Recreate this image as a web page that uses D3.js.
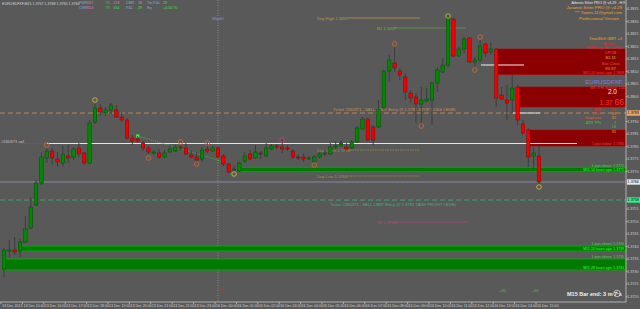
<!DOCTYPE html>
<html lang="en">
<head>
<meta charset="UTF-8">
<title>EURUSDFXF,M15</title>
<style>
  html, body { margin: 0; padding: 0; background: #595959; }
  svg { display: block; font-family: "Liberation Sans", Arial, sans-serif; }
</style>
</head>
<body>
<svg id="chart" width="640" height="309"></svg>
<script src="https://cdnjs.cloudflare.com/ajax/libs/d3/7.8.5/d3.min.js"></script>
<script>
// ---- data ----
const candleOpen = [1.37308,1.37380,1.37384,1.37380,1.37416,1.37472,1.37564,1.37652,1.37752,1.37780,
  1.37748,1.37732,1.37760,1.37756,1.37792,1.37772,1.37732,1.37896,1.37952,1.37932,
  1.37944,1.37944,1.37916,1.37904,1.37832,1.37828,1.37812,1.37792,1.37772,1.37772,
  1.37756,1.37776,1.37780,1.37796,1.37792,1.37764,1.37756,1.37748,1.37788,1.37780,
  1.37792,1.37760,1.37728,1.37704,1.37700,1.37740,1.37768,1.37752,1.37772,1.37760,
  1.37788,1.37800,1.37796,1.37792,1.37780,1.37756,1.37756,1.37748,1.37736,1.37756,
  1.37768,1.37768,1.37796,1.37804,1.37796,1.37792,1.37816,1.37868,1.37908,1.37876,
  1.37876,1.37952,1.38100,1.38132,1.38100,1.38076,1.38012,1.37996,1.37968,1.37980,
  1.37984,1.38052,1.38096,1.38124,1.38308,1.38160,1.38188,1.38232,1.38136,1.38144,
  1.38208,1.38176,1.38188,1.38004,1.37984,1.37984,1.38036,1.37888,1.37864,1.37760,
  1.37760];
const candleHigh = [1.37392,1.37424,1.37436,1.37432,1.37520,1.37596,1.37664,1.37776,1.37792,1.37792,
  1.37776,1.37800,1.37804,1.37796,1.37812,1.37776,1.37904,1.37968,1.37968,1.37956,
  1.37972,1.37964,1.37936,1.37912,1.37844,1.37840,1.37820,1.37800,1.37784,1.37788,
  1.37784,1.37804,1.37804,1.37804,1.37812,1.37784,1.37776,1.37796,1.37812,1.37800,
  1.37800,1.37768,1.37732,1.37724,1.37736,1.37776,1.37784,1.37804,1.37780,1.37812,
  1.37808,1.37808,1.37828,1.37804,1.37788,1.37768,1.37772,1.37760,1.37764,1.37776,
  1.37784,1.37812,1.37820,1.37824,1.37812,1.37824,1.37880,1.37916,1.37912,1.37884,
  1.37984,1.38104,1.38164,1.38196,1.38112,1.38092,1.38024,1.38012,1.38036,1.38032,
  1.38056,1.38116,1.38152,1.38324,1.38312,1.38196,1.38236,1.38236,1.38156,1.38224,
  1.38212,1.38212,1.38192,1.38036,1.38044,1.38084,1.38044,1.37904,1.37872,1.37792,
  1.37804];
const candleLow = [1.37276,1.37352,1.37364,1.37356,1.37412,1.37468,1.37560,1.37644,1.37732,1.37724,
  1.37716,1.37716,1.37732,1.37744,1.37756,1.37724,1.37728,1.37888,1.37920,1.37920,
  1.37928,1.37912,1.37896,1.37824,1.37804,1.37812,1.37780,1.37768,1.37764,1.37748,
  1.37752,1.37772,1.37776,1.37784,1.37764,1.37752,1.37736,1.37736,1.37772,1.37776,
  1.37752,1.37720,1.37692,1.37696,1.37696,1.37732,1.37744,1.37748,1.37748,1.37756,
  1.37784,1.37788,1.37772,1.37780,1.37748,1.37744,1.37736,1.37744,1.37736,1.37752,
  1.37760,1.37764,1.37788,1.37796,1.37784,1.37788,1.37812,1.37864,1.37820,1.37804,
  1.37872,1.37944,1.38056,1.38096,1.38064,1.37984,1.37972,1.37892,1.37884,1.37976,
  1.37884,1.38016,1.38092,1.38112,1.38156,1.38156,1.38172,1.38132,1.38116,1.38136,
  1.38156,1.38164,1.37956,1.37984,1.37904,1.37932,1.37884,1.37844,1.37716,1.37704,
  1.37644];
const candleClose = [1.37384,1.37384,1.37376,1.37416,1.37468,1.37556,1.37652,1.37756,1.37780,1.37752,
  1.37736,1.37768,1.37752,1.37788,1.37768,1.37732,1.37892,1.37952,1.37936,1.37944,
  1.37964,1.37916,1.37904,1.37832,1.37820,1.37820,1.37792,1.37776,1.37776,1.37756,
  1.37772,1.37788,1.37796,1.37792,1.37768,1.37756,1.37744,1.37784,1.37780,1.37792,
  1.37756,1.37728,1.37696,1.37708,1.37732,1.37760,1.37748,1.37776,1.37768,1.37792,
  1.37800,1.37796,1.37788,1.37788,1.37756,1.37752,1.37748,1.37752,1.37756,1.37768,
  1.37772,1.37796,1.37800,1.37812,1.37788,1.37816,1.37872,1.37908,1.37824,1.37824,
  1.37948,1.38100,1.38144,1.38112,1.38084,1.38016,1.37992,1.37968,1.37984,1.37988,
  1.38052,1.38104,1.38124,1.38312,1.38160,1.38188,1.38228,1.38136,1.38144,1.38200,
  1.38172,1.38188,1.37992,1.37988,1.37972,1.38032,1.37904,1.37852,1.37756,1.37772,
  1.37656];

const priceTicks = [1.3720,1.3725,1.3730,1.3735,1.3740,1.3745,1.3750,1.3755,1.3760,1.3765,
  1.3770,1.3775,1.3780,1.3785,1.3790,1.3795,1.3800,1.3805,1.3810,1.3815,1.3820,1.3825,1.3830,1.3835];
const timeLabelBars = [0,4,8,12,16,20,24,28,32,36,40,44,48,52,56,60,64,68,72,76,80,84,88,92,96,100];
const timeLabels = ["13 Dec 2013","13 Dec 15:00","13 Dec 16:00","13 Dec 17:00","13 Dec 18:00",
  "13 Dec 19:00","13 Dec 20:00","13 Dec 21:00","13 Dec 22:00","13 Dec 23:00","16 Dec 00:00",
  "16 Dec 01:00","16 Dec 02:00","16 Dec 03:00","16 Dec 04:00","16 Dec 05:00","16 Dec 06:00",
  "16 Dec 07:00","16 Dec 08:00","16 Dec 09:00","16 Dec 10:00","16 Dec 11:00","16 Dec 12:00",
  "16 Dec 13:00","16 Dec 14:00","16 Dec 15:00"];

const fractalBars   = [8, 17, 27, 33, 36, 38, 43, 52, 58, 73, 78, 83, 88, 89, 100];
const fractalPrices = [1.37804,1.37984,1.37752,1.37816,1.37728,1.37812,1.37688,1.37824,1.37724,
  1.38208,1.37880,1.38320,1.38104,1.38236,1.37636];
const fractalKinds  = ["o","y","o","o","o","o","y","m","o","o","o","y","o","o","y"];

// support (green) and resistance (dark red) zones: from bar, top, bottom
const supportFrom = [44, 3, 0];
const supportTop  = [1.37715, 1.37400, 1.37348];
const supportBot  = [1.37697, 1.37380, 1.37304];
const supportNote = [["1 pips above: 1.3772","M15 14 hours ago: 1.3771"],
                     ["1 pips above: 1.3740","M15 24 hours ago: 1.3739"],
                     ["1 pips above: 1.3735","M15 28 hours ago: 1.3734"]];
const resistFrom = [92, 96, 98];
const resistTop  = [1.38188, 1.38036, 1.37864];
const resistBot  = [1.38086, 1.37956, 1.37800];
const resistNote = ["M15 24 hours ago: 1.3809", null, "1 pips below: 1.3780"];

const bidPrice = 1.37656, entryPrice = 1.3781, stopPrice = 1.37932, takePrice = 1.37584;
const dayHigh = 1.38312, r1Level = 1.38272, dayOpen = 1.37784, dayLow = 1.37680, tpLevel = 1.37496;
const tradePathBars = [25, 37, 41], tradePathPrices = [1.37840, 1.37764, 1.37736];

// ---- layout ----
const W = 640, H = 309, plotR = 626, plotB = 302;
const svg = d3.select("#chart");
svg.append("rect").attr("width", W).attr("height", H).attr("fill", "#595959");

const x = d3.scaleLinear().domain([0, 100]).range([4, 539]);
const y = d3.scaleLinear().domain([1.37176, 1.38384]).range([plotB, 0]);

const candles = candleOpen.map((o, i) => ({i, o, h: candleHigh[i], l: candleLow[i], c: candleClose[i]}));

// period separator
svg.append("line").attr("x1", 218).attr("x2", 218).attr("y1", 0).attr("y2", plotB)
  .attr("stroke", "#9a9a9a").attr("stroke-width", 0.8).attr("stroke-dasharray", "1,1.5");

// support zones
const sup = svg.append("g");
supportTop.forEach((t, k) => {
  const x0 = x(supportFrom[k]) - 2;
  sup.append("rect").attr("x", x0).attr("y", y(t)).attr("width", plotR - x0)
    .attr("height", y(supportBot[k]) - y(t)).attr("fill", "#007a00")
    .attr("stroke", "#00b400").attr("stroke-width", 0.8);
});

// resistance zones
const res = svg.append("g");
resistTop.forEach((t, k) => {
  const x0 = x(resistFrom[k]) + 1;
  res.append("rect").attr("x", x0).attr("y", y(t)).attr("width", plotR - x0)
    .attr("height", y(resistBot[k]) - y(t)).attr("fill", "#8b0000")
    .attr("stroke", "#b00000").attr("stroke-width", 0.6);
  if (resistNote[k]) res.append("text").attr("x", 624).attr("y", y(resistBot[k]) - 0.6).attr("text-anchor", "end")
    .attr("font-size", 3.5).attr("fill", "#ff3030").text(resistNote[k]);
});

// horizontal levels
svg.append("line").attr("x1", 0).attr("x2", plotR).attr("y1", y(bidPrice)).attr("y2", y(bidPrice))
  .attr("stroke", "#8c8fa0").attr("stroke-width", 0.9);
svg.append("line").attr("x1", 0).attr("x2", plotR).attr("y1", y(stopPrice)).attr("y2", y(stopPrice))
  .attr("stroke", "#c08a5a").attr("stroke-width", 0.9).attr("stroke-dasharray", "5,3");
svg.append("line").attr("x1", 0).attr("x2", plotR).attr("y1", y(takePrice)).attr("y2", y(takePrice))
  .attr("stroke", "#3fae78").attr("stroke-width", 0.9).attr("stroke-dasharray", "5,3");
svg.append("line").attr("x1", 20).attr("x2", 47).attr("y1", y(entryPrice)).attr("y2", y(entryPrice))
  .attr("stroke", "#4a7a4a").attr("stroke-width", 0.8).attr("stroke-dasharray", "1,1");
svg.append("line").attr("x1", 47).attr("x2", 577).attr("y1", y(entryPrice)).attr("y2", y(entryPrice))
  .attr("stroke", "#e6e6e6").attr("stroke-width", 1);
svg.append("line").attr("x1", 481).attr("x2", 524).attr("y1", y(1.38124)).attr("y2", y(1.38124))
  .attr("stroke", "#f0f0f0").attr("stroke-width", 1);
svg.append("line").attr("x1", 513).attr("x2", 540).attr("y1", y(1.37932)).attr("y2", y(1.37932))
  .attr("stroke", "#e0e0e0").attr("stroke-width", 1);

// day levels
const lvl = svg.append("g").attr("font-size", 4.2);
function level(price, x0, x1, text, color, dash) {
  lvl.append("line").attr("x1", x0).attr("x2", x1).attr("y1", y(price)).attr("y2", y(price))
    .attr("stroke", color).attr("stroke-width", 0.8).attr("stroke-dasharray", dash);
  lvl.append("text").attr("x", 317).attr("y", y(price) + 1.5).attr("fill", color).text(text);
}
level(dayHigh, 348, 420, "Day High 1.3831", "#b89a4a", null);
level(dayOpen, 350, 420, "Day Open 1.3778", "#a89040", "1.5,1");
level(dayLow, 348, 420, "Day Low 1.3768", "#a89040", "1.5,1");
lvl.append("line").attr("x1", 393).attr("x2", 466).attr("y1", y(r1Level)).attr("y2", y(r1Level))
  .attr("stroke", "#6aa040").attr("stroke-width", 0.7);
lvl.append("text").attr("x", 377).attr("y", y(r1Level) + 1.5).attr("fill", "#7ab040").text("R1 1.3827");
lvl.append("line").attr("x1", 393).attr("x2", 467).attr("y1", y(tpLevel)).attr("y2", y(tpLevel))
  .attr("stroke", "#b0407a").attr("stroke-width", 0.8);
lvl.append("text").attr("x", 377).attr("y", y(tpLevel) + 1.5).attr("fill", "#d04080").text("TP 1.3750");
lvl.append("text").attr("x", 333).attr("y", y(stopPrice) - 2).attr("fill", "#c8965a")
  .text("Ticket #260371 - SELL LIMIT Entry @ 1.3781  STOP LOSS LEVEL");
lvl.append("text").attr("x", 330).attr("y", y(takePrice) + 5.5).attr("fill", "#4fae78")
  .text("Ticket #260371 - SELL LIMIT Entry @ 1.3781  TAKE PROFIT LEVEL");
lvl.append("text").attr("x", 1).attr("y", y(entryPrice) - 0.5).attr("fill", "#c8c8c8")
  .text("#260371 sel");
lvl.append("text").attr("x", 212).attr("y", 20).attr("fill", "#7aa0d0").text("Weekl");

// trade path
const tradeLine = d3.line().x(d => x(d[0])).y(d => y(d[1]));
svg.append("path").attr("d", tradeLine(tradePathBars.map((b, k) => [b, tradePathPrices[k]])))
  .attr("fill", "none").attr("stroke", "#3cc03c").attr("stroke-width", 0.8).attr("stroke-dasharray", "1,1");
svg.append("rect").attr("x", x(25) - 1.5).attr("y", y(1.37840) - 1.5).attr("width", 3).attr("height", 3)
  .attr("fill", "#40ff40");

// candles
const cg = svg.append("g");
cg.selectAll("line.wick").data(candles).join("line").attr("class", "wick")
  .attr("x1", d => x(d.i)).attr("x2", d => x(d.i))
  .attr("y1", d => y(d.h)).attr("y2", d => y(d.l))
  .attr("stroke", "#3a3a3a").attr("stroke-width", 0.9);
cg.selectAll("rect.body").data(candles).join("rect").attr("class", "body")
  .attr("x", d => x(d.i) - 1.7).attr("width", 3.4)
  .attr("y", d => y(Math.max(d.o, d.c)))
  .attr("height", d => Math.max(1, Math.abs(y(d.o) - y(d.c))))
  .attr("fill", d => d.c >= d.o ? "#008a00" : "#f00000")
  .attr("stroke", d => d.c >= d.o ? "#004a00" : "#8a0000").attr("stroke-width", 0.5);

// fractal circles
const kindColor = {o: "#c46a3a", y: "#c8b830", m: "#c04080"};
svg.append("g").selectAll("circle").data(fractalBars).join("circle")
  .attr("cx", d => x(d)).attr("cy", (d, k) => y(fractalPrices[k])).attr("r", 2.3)
  .attr("fill", "none").attr("stroke", (d, k) => kindColor[fractalKinds[k]]).attr("stroke-width", 0.9);

// support zone labels
const sl = svg.append("g").attr("font-size", 3.5).attr("text-anchor", "end");
supportTop.forEach((t, k) => {
  sl.append("text").attr("x", 624).attr("y", y(t) - 0.6).attr("fill", "#4ed04e").text(supportNote[k][0]);
  sl.append("text").attr("x", 624).attr("y", y(supportBot[k]) - 0.6).attr("fill", "#30ff30").text(supportNote[k][1]);
});

// right panel text
const pt = svg.append("g").attr("text-anchor", "end");
function ptext(yy, txt, color, size, xx) {
  pt.append("text").attr("x", xx || 622).attr("y", yy).attr("fill", color)
    .attr("font-size", size || 4.2).text(txt);
}
ptext(4, "Arbenis Sitter PRO @ v4.29 - H:9", "#e8e8e8", 3.6, 625);
ptext(9, "Jaramie Sitter PRO @ v4.29", "#f0a030", 4.4);
ptext(14, "*** Yannis.11@gmail.com", "#f0a030", 4.2);
ptext(19.8, "Professional Version", "#f0a030", 4.4, 619);
ptext(39.5, "TimeShift GMT +0", "#f0a030", 4.1);
ptext(44.5, "Broker", "#e03030", 4.1, 615);
ptext(49.3, "ECN-Day-Bar-00:00", "#e03030", 4.0);
ptext(54, "LPCB", "#ff5050", 4.1, 616);
ptext(59, "81.11", "#e0c020", 4.3, 616);
ptext(65.3, "Bar Close", "#e05050", 4.1, 620);
ptext(70.3, "83.87", "#f09030", 4.3, 616);
ptext(83.5, "EURUSDFXF", "#8c78d8", 6);
ptext(88.6, "MR: 8  Hi-Spread: 1.00", "#ff3030", 3.5, 625);
ptext(94.3, "2.0", "#f0f0f0", 6.5, 617);
ptext(105.2, "66", "#ff3030", 8.5, 624);
ptext(105.2, "1.37", "#ff3030", 6.8, 612.8);
const rows = [["ATR", "51", "#e03030", "#e03030"], ["Pivot", "43", "#e03030", "#f09030"],
  ["StopLoss", "65", "#e06030", "#f09030"], ["ATR TPs", "7", "#30d030", "#30d030"],
  ["", "18", "#30d030", "#30d030"], ["", "31", "#30d030", "#e0c020"]];
rows.forEach((r, k) => {
  const yy = 110.5 + k * 4.4;
  if (r[0]) pt.append("text").attr("x", 601).attr("y", yy).attr("fill", r[2]).attr("font-size", 3.8).text(r[0]);
  pt.append("text").attr("x", 616).attr("y", yy).attr("fill", r[3]).attr("font-size", 3.8).text(r[1]);
});

// header
const hd = svg.append("g").attr("font-size", 3.8);
hd.append("text").attr("x", 2).attr("y", 4.5).attr("fill", "#d8d8d8").attr("font-size", 3.6)
  .text("EURUSDFXF,M15  1.3767 1.3768 1.3765 1.3766");
const statCols = [79, 87, 105, 113, 126, 138, 147, 163];
const stat1 = [["PWR", "#7fa8d8"], ["267", "#e070c0"], ["TR", "#40c040"], ["218", "#e070c0"],
  ["CBR", "#7fa8d8"], ["38", "#e070c0"], ["Tot P&L", "#7fa8d8"], ["29", "#40e040"]];
const stat2 = [["CWR", "#7fa8d8"], ["154", "#e070c0"], ["TR", "#40c040"], ["154", "#40e040"],
  ["P&L", "#7fa8d8"], ["29", "#40e040"], ["Eq", "#7fa8d8"], ["+0.05 %", "#40e040"]];
stat1.forEach((s, k) => hd.append("text").attr("x", statCols[k]).attr("y", 4.3).attr("fill", s[1]).text(s[0]));
stat2.forEach((s, k) => hd.append("text").attr("x", statCols[k]).attr("y", 9.2).attr("fill", s[1]).text(s[0]));

// bottom extras
svg.append("circle").attr("cx", 223).attr("cy", 290).attr("r", 1.2).attr("fill", "#c03030");
svg.append("text").attr("x", 499).attr("y", 292).attr("font-size", 4).attr("fill", "#30d030").text("+30");
svg.append("text").attr("x", 532).attr("y", 292).attr("font-size", 4).attr("fill", "#30d030").text("+30");
svg.append("text").attr("x", 567).attr("y", 296).attr("font-size", 5.5).attr("font-weight", "bold")
  .attr("fill", "#f0f0f0").text("M15 Bar end: 3 m 7 s");
svg.append("circle").attr("cx", 617).attr("cy", 293.5).attr("r", 3.3).attr("fill", "none")
  .attr("stroke", "#e0e0e0").attr("stroke-width", 0.7);
svg.append("path").attr("d", "M617,291.3V293.5H618.8").attr("fill", "none").attr("stroke", "#e0e0e0").attr("stroke-width", 0.6);

// axes
const tags = [[bidPrice, "1.3766", "#e8e8e8", "#000"], [takePrice, "1.3758", "#38f088", "#000"],
  [stopPrice, "1.3793", "#f0a868", "#000"]];
const freeTicks = priceTicks.filter(p => tags.every(t => Math.abs(y(p) - y(t[0])) > 4.5));
const yAxis = d3.axisRight(y).tickValues(freeTicks).tickFormat(d3.format(".4f")).tickSize(1.5);
const ya = svg.append("g").attr("transform", `translate(${plotR},0)`).call(yAxis);
ya.select(".domain").attr("stroke", "#b0b0b0").attr("d", `M0,0V${plotB}`);
ya.selectAll("line").attr("stroke", "#b0b0b0");
ya.selectAll("text").attr("fill", "#cfcfcf").attr("font-size", 3.7).attr("x", 1.2)
  .attr("font-family", "Liberation Sans, Arial, sans-serif");

const xAxis = d3.axisBottom(x).tickValues(timeLabelBars).tickFormat((d, k) => timeLabels[k]).tickSize(2);
const xa = svg.append("g").attr("transform", `translate(0,${plotB})`).call(xAxis);
xa.select(".domain").attr("stroke", "#b0b0b0").attr("d", `M0,0H${plotR}`);
xa.selectAll(".tick").attr("transform", d => `translate(${x(d) - 3},0)`);
xa.selectAll("line").attr("stroke", "#b0b0b0");
xa.selectAll("text").attr("fill", "#cfcfcf").attr("font-size", 3.6).attr("text-anchor", "start")
  .attr("x", 1).attr("y", 2.5).attr("font-family", "Liberation Sans, Arial, sans-serif");

// highlighted price labels on axis
tags.forEach(t => {
  svg.append("rect").attr("x", plotR + 1).attr("y", y(t[0]) - 2.7).attr("width", 13).attr("height", 5.4).attr("fill", t[2]);
  svg.append("text").attr("x", plotR + 1.6).attr("y", y(t[0]) + 1.4).attr("font-size", 3.7).attr("fill", t[3]).text(t[1]);
});
</script>
</body>
</html>
